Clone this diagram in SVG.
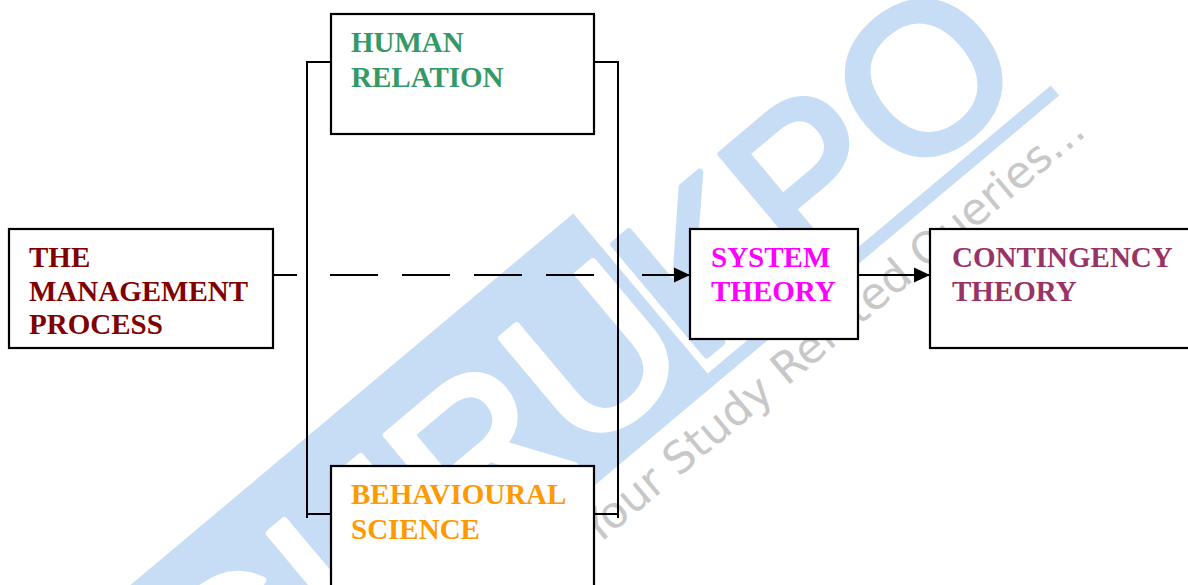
<svg xmlns="http://www.w3.org/2000/svg" width="1188" height="585" viewBox="0 0 1188 585">
  <style>
    .box { fill: #ffffff; stroke: #000000; stroke-width: 2.2; }
    .line { fill: none; stroke: #000000; stroke-width: 2; }
    .label { font-family: "Liberation Serif", "Times New Roman", serif; font-weight: bold; font-size: 29px; }
    .mark { font-family: "Liberation Sans", Arial, sans-serif; font-size: 210px; stroke-width: 7; stroke-linejoin: round; }
    .tag { font-family: "DejaVu Sans", Verdana, sans-serif; font-size: 44px; fill: #c8c8c8; }
  </style>
  <defs>
    <marker id="arrow" markerUnits="userSpaceOnUse" markerWidth="16" markerHeight="16" refX="16" refY="8" orient="auto">
      <path d="M0,0.5 L16,8 L0,15.5 Z" fill="#000000"/>
    </marker>
  </defs>

  <rect width="1188" height="585" fill="#ffffff"/>

  <!-- background watermark, laid along a -40 degree baseline -->
  <g id="watermark" transform="rotate(-40)">
    <rect x="-360" y="532" width="662" height="222" fill="#c6ddf5"/>
    <text class="mark" x="-316" y="726" fill="#ffffff" stroke="#ffffff">GURU</text>
    <text class="mark" x="296" y="726" fill="#c6ddf5" stroke="#c6ddf5">KPO</text>
    <rect x="302" y="741" width="448" height="13" fill="#c6ddf5"/>
    <text class="tag" x="105" y="802">Your Study Related Queries...</text>
  </g>

  <!-- connectors -->
  <g id="connectors">
    <!-- bracket joining the two side approaches -->
    <path class="line" d="M331,62 H307 V518"/>
    <path class="line" d="M307,514 H331"/>
    <path class="line" d="M594,62 H618 V518"/>
    <path class="line" d="M594,514 H618"/>
    <!-- lead-in from the management process -->
    <path class="line" d="M273,275 H297"/>
    <!-- dashed pass-through -->
    <path class="line" d="M330,275 H596" stroke-dasharray="48 24"/>
    <!-- arrows into the system and contingency theories -->
    <path class="line" d="M642,275 H690" marker-end="url(#arrow)"/>
    <path class="line" d="M858,275 H930" marker-end="url(#arrow)"/>
  </g>

  <g id="management-process">
    <rect class="box" x="9" y="229" width="264" height="119"/>
    <text class="label" fill="#800000">
      <tspan x="29" y="267">THE</tspan>
      <tspan x="29" y="301">MANAGEMENT</tspan>
      <tspan x="29" y="334">PROCESS</tspan>
    </text>
  </g>

  <g id="human-relation">
    <rect class="box" x="331" y="14" width="263" height="120"/>
    <text class="label" fill="#339966">
      <tspan x="351" y="52">HUMAN</tspan>
      <tspan x="351" y="87">RELATION</tspan>
    </text>
  </g>

  <g id="behavioural-science">
    <rect class="box" x="331" y="466" width="263" height="140"/>
    <text class="label" fill="#ff9900">
      <tspan x="351" y="504">BEHAVIOURAL</tspan>
      <tspan x="351" y="539">SCIENCE</tspan>
    </text>
  </g>

  <g id="system-theory">
    <rect class="box" x="690" y="229" width="168" height="110"/>
    <text class="label" fill="#ff00ff">
      <tspan x="711" y="267">SYSTEM</tspan>
      <tspan x="711" y="301">THEORY</tspan>
    </text>
  </g>

  <g id="contingency-theory">
    <rect class="box" x="930" y="229" width="280" height="119"/>
    <text class="label" fill="#993366">
      <tspan x="952" y="267">CONTINGENCY</tspan>
      <tspan x="952" y="301">THEORY</tspan>
    </text>
  </g>
</svg>
